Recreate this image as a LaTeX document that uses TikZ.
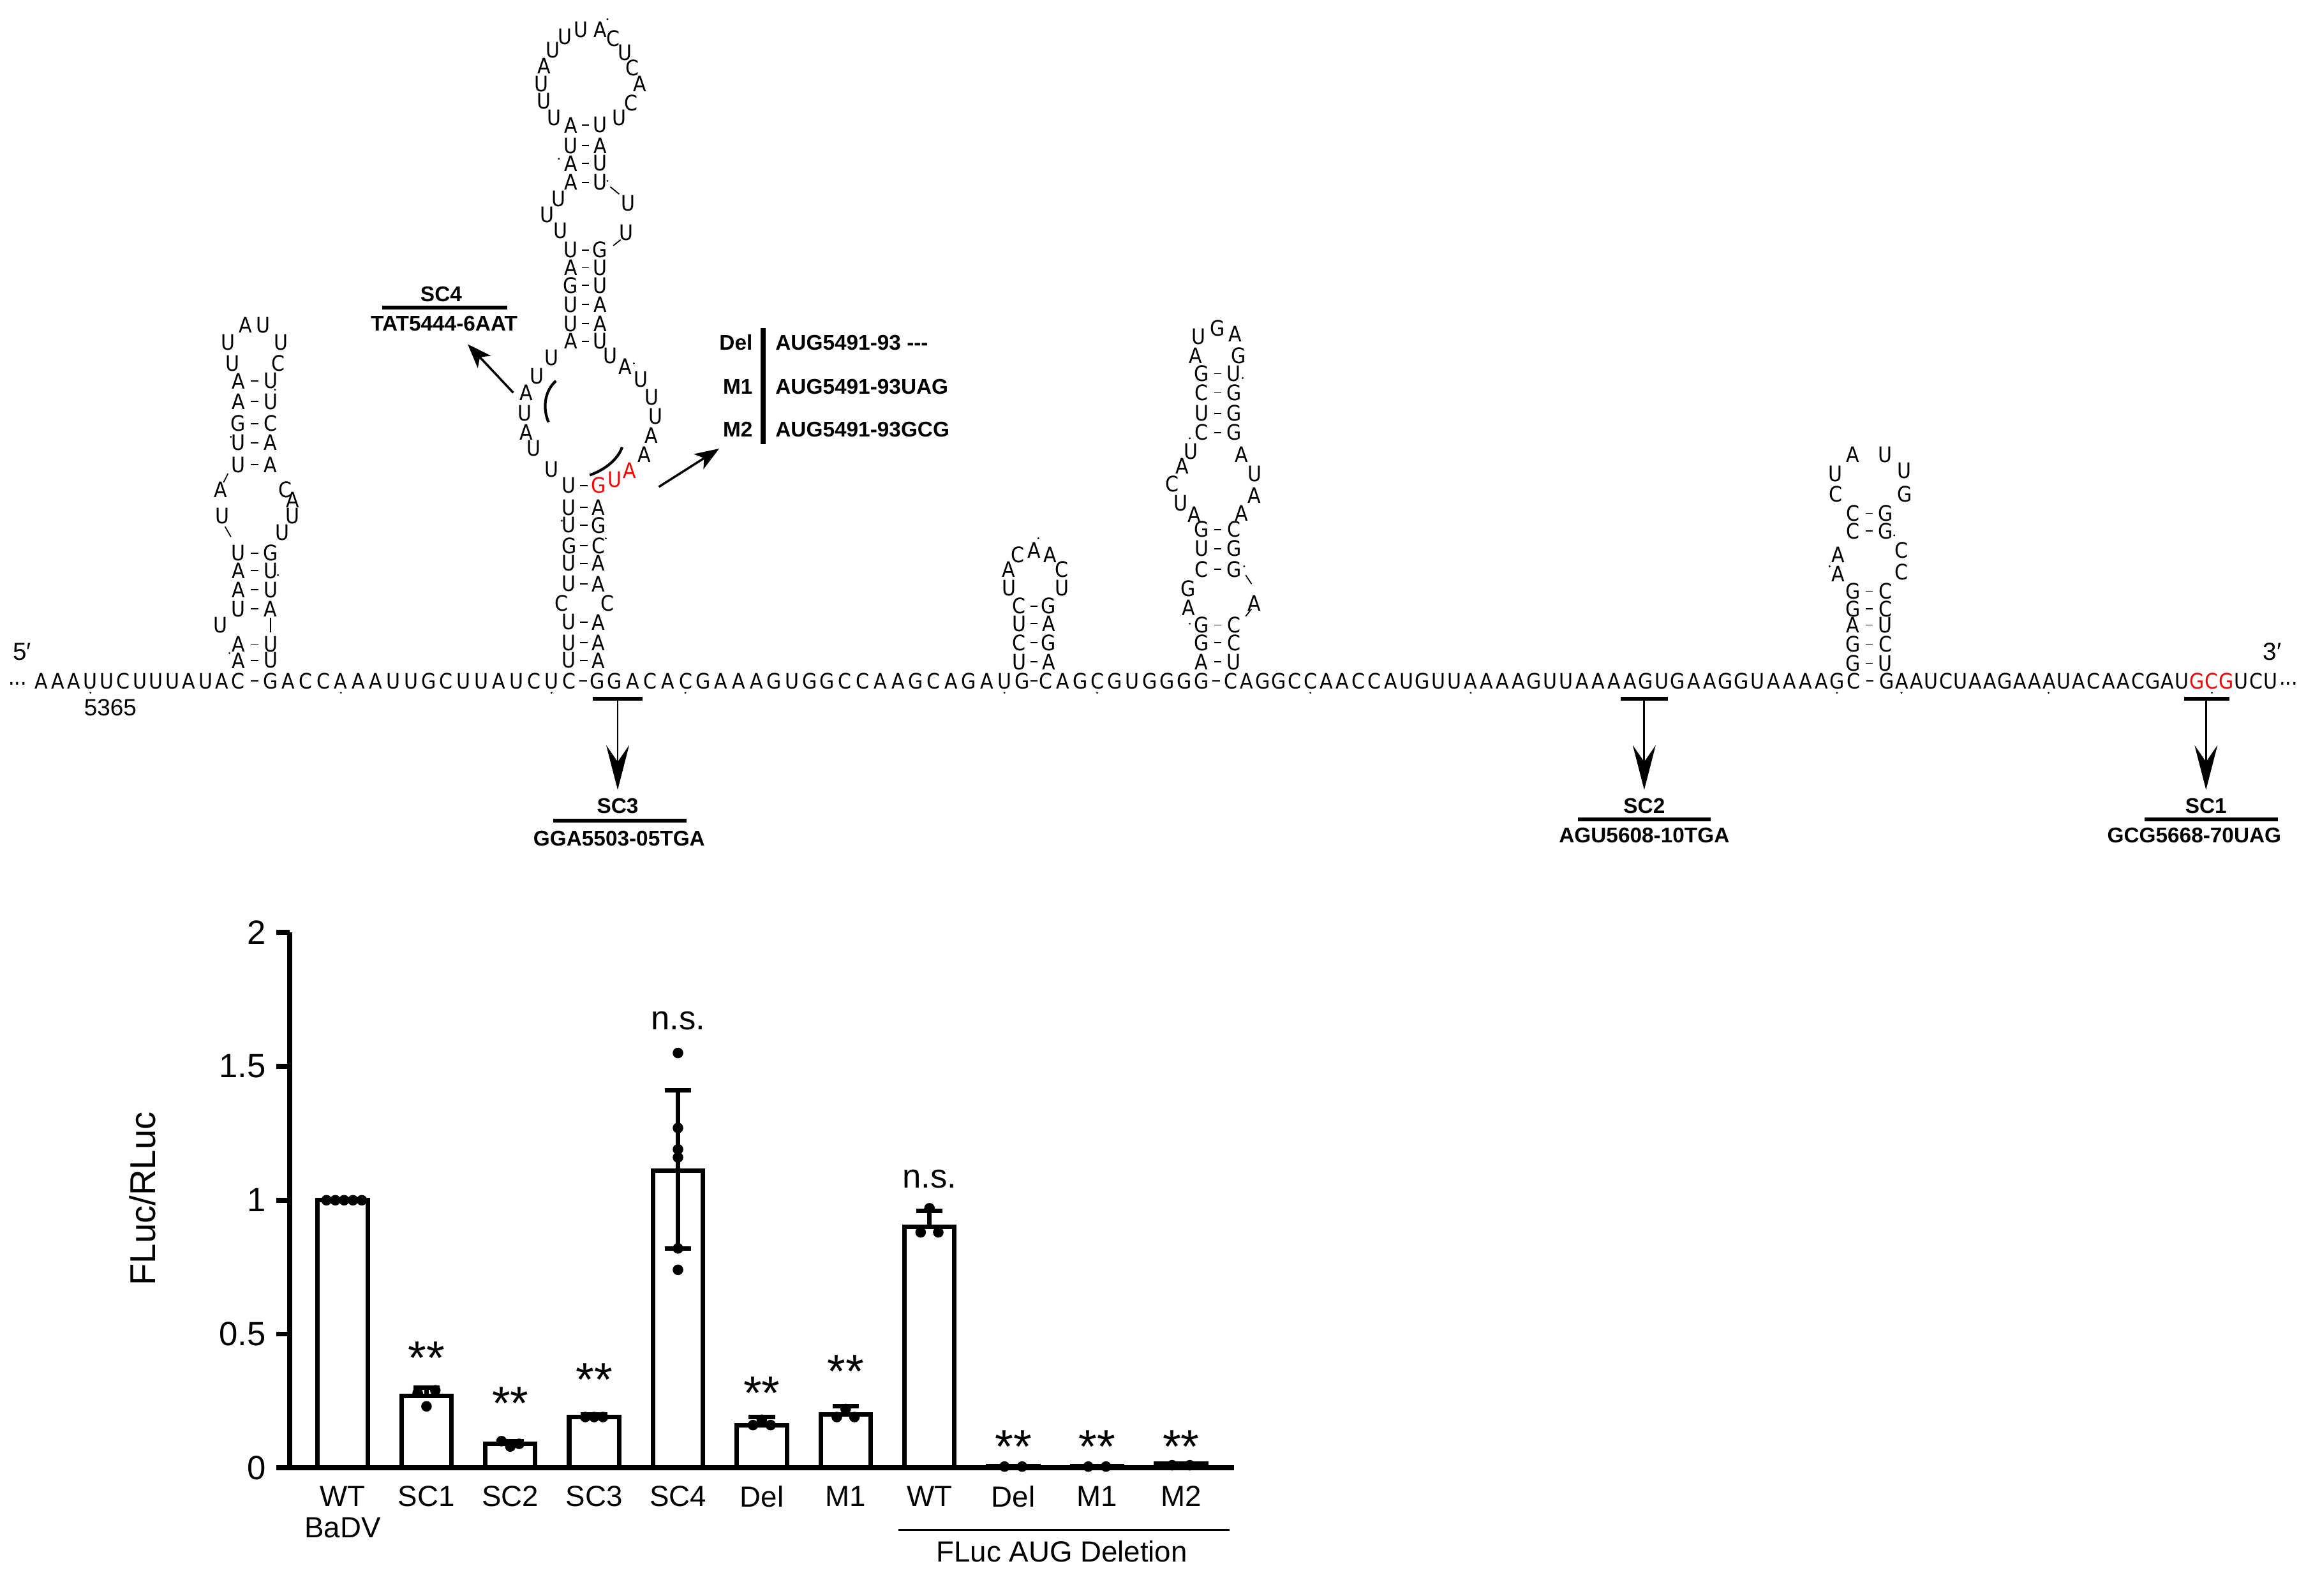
\documentclass[tikz,border=0pt]{standalone}
\usepackage{fontspec}
\setmainfont{Liberation Sans}
\newfontfamily\ntfont{DejaVu Sans Condensed}
\usetikzlibrary{arrows.meta}
\tikzset{
  nt/.style={font=\ntfont\fontsize{9.5}{9.5}\selectfont,inner sep=0pt,anchor=center},
  ntr/.style={nt,text=red},
  lab/.style={font=\bfseries\fontsize{9.5}{10}\selectfont,inner sep=0pt},
  thk/.style={line width=1.6pt},
  bigarrow/.style={line width=0.8pt,-{Stealth[length=7mm,width=3.6mm,inset=2.6mm]}},
  smarrow/.style={line width=1pt,-{Stealth[length=3.8mm,width=2.8mm,inset=1mm]}},
  axis/.style={line width=2.2pt},
  bar/.style={line width=2pt,fill=white},
  err/.style={line width=2pt},
  tick/.style={font=\fontsize{15}{15}\selectfont,inner sep=0pt},
  xl/.style={font=\fontsize{13}{14}\selectfont,inner sep=0pt,align=center,anchor=north},
  star/.style={font=\fontsize{15}{15}\selectfont,inner sep=0pt},
  stars/.style={font=\fontsize{21}{21}\selectfont,inner sep=0pt},
}
\newcommand\pr[5]{\node[nt] at (#1,#3) {#4};\node[nt] at (#2,#3) {#5};\draw[line width=0.5pt] ({(#1+#2)/2-2.5},#3) -- ({(#1+#2)/2+2.5},#3);}
\newcommand\nn[3]{\node[nt] at (#1,#2) {#3};}
\newcommand\dt[2]{\fill (#1,#2) circle (0.7);}
\newcommand\bd[1]{\draw[line width=0.5pt] ({#1-2.5},463) -- ({#1+2.5},463);}
\begin{document}
\begin{tikzpicture}[x=0.02305cm,y=-0.02305cm]
\useasboundingbox (0,0) rectangle (1568,1085);
% ---------- baseline ----------
\node[nt] (dots1) at (12,465) {...};
\foreach \c [count=\i from 0] in {A,A,A,U,U,C,U,U,U,A,U,A,C} {\node[nt] at ({28+\i*11.17},463) {\c};}
\bd{173}
\foreach \c [count=\i from 0] in {G,A,C,C,A,A,A,U,U,G,C,U,U,A,U,C,U,C} {\node[nt] at ({184+\i*11.94},463) {\c};}
\bd{396.5}
\foreach \c [count=\i from 0] in {G,G,A,C,A,C,G,A,A,A,G,U,G,G,C,C,A,A,G,C,A,G,A,U,G} {\node[nt] at ({406+\i*12.04},463) {\c};}
\bd{703}
\foreach \c [count=\i from 0] in {C,A,G,C,G,U,G,G,G,G} {\node[nt] at ({711+\i*11.78},463) {\c};}
\bd{827}
\foreach \c [count=\i from 0] in {C,A,G,G,C,C,A,A,C,C,A,U,G,U,U,A,A,A,A,G,U,U,A,A,A,A,G,U,G,A,A,G,G,U,A,A,A,A,G,C} {\node[nt] at ({837+\i*10.85},463) {\c};}
\bd{1271.5}
\foreach \c [count=\i from 0] in {G,A,A,U,C,U,A,A,G,A,A,A,U,A,C,A,A,C,G,A,U} {\node[nt] at ({1283+\i*10.04},463) {\c};}
\foreach \c [count=\i from 21] in {G,C,G} {\node[ntr] at ({1283+\i*10.04},463) {\c};}
\foreach \c [count=\i from 24] in {U,C,U} {\node[nt] at ({1283+\i*10.04},463) {\c};}
\node[nt] (dots2) at (1556,465) {...};
\foreach \x in {61.5,231.8,375,466,683,746,891,1000,1249,1293,1393,1504} {\dt{\x}{471}}
\node[font=\fontsize{11}{11}\selectfont,inner sep=0pt] (p5) at (15,443) {5′};
\node[font=\fontsize{11}{11}\selectfont,inner sep=0pt] (p3) at (1545,443) {3′};
\node[font=\fontsize{10.5}{11}\selectfont,inner sep=0pt] (n5365) at (75,481) {5365};
% ---------- hairpin 1 ----------
\pr{162}{184}{449}{A}{U}\dt{156}{444}
\pr{162}{184}{438}{A}{U}
\nn{150}{425}{U}\draw[line width=0.5pt] (184,420)--(184,430);
\pr{162}{184}{414}{U}{A}
\pr{162}{184}{401}{A}{U}
\pr{162}{184}{388}{A}{U}\dt{189}{391}
\pr{162}{184}{376}{U}{G}
\nn{151}{351}{U}\nn{199}{351}{U}\nn{192}{362}{U}
\nn{150}{333}{A}\nn{194}{333}{C}\nn{199}{340}{A}
\draw[line width=0.5pt] (152,328)--(155,322);\draw[line width=0.5pt] (153,358)--(157,365);
\pr{162}{184}{316}{U}{A}
\pr{162}{184}{301}{U}{A}\dt{157}{297}
\pr{162}{184}{288}{G}{C}
\pr{162}{184}{273}{A}{U}
\pr{162}{184}{259}{A}{U}\dt{187}{265}
\nn{158}{247}{U}\nn{189}{247}{C}
\nn{155}{233}{U}\nn{191}{233}{U}
\nn{167}{221}{A}\nn{179}{221}{U}
% ---------- hairpin 2 (big) ----------
\pr{387}{407}{449}{U}{A}
\pr{387}{407}{437}{U}{A}
\pr{387}{407}{423}{U}{A}
\nn{382}{410}{C}\nn{413}{410}{C}
\pr{387}{407}{397}{U}{A}
\pr{387}{407}{383}{U}{A}
\pr{387}{407}{371}{G}{C}\dt{412}{366}
\pr{387}{407}{357}{U}{G}\dt{382}{354}
\pr{387}{407}{345}{U}{A}
\node[nt] at (387,330) {U};\draw[line width=0.5pt] (394.5,330)--(399.5,330);\node[ntr] at (407,330) {G};
\node[ntr] at (418,326) {U};\node[ntr] at (428,320) {A};
\nn{375}{319}{U}\nn{363}{305}{U}\nn{358}{294}{A}\nn{357}{281}{U}\nn{358}{267}{A}\nn{365}{256}{U}\nn{375}{243}{U}
\nn{438}{309}{A}\nn{443}{296}{A}\nn{446}{283}{U}\nn{443}{270}{U}\nn{436}{258}{U}\nn{425}{249}{A}\nn{415}{242}{U}\dt{431}{247}
\draw[line width=1.2pt] (378,259) .. controls (370,266) and (369,278) .. (373,287);
\draw[line width=1.2pt] (423,304) .. controls (420,313) and (410,320) .. (401,323);
\pr{388}{408}{232}{A}{U}
\pr{388}{408}{220}{U}{A}
\pr{388}{408}{207}{U}{A}
\pr{388}{408}{194}{G}{U}
\pr{388}{408}{182}{A}{U}
\pr{388}{408}{170}{U}{G}
\nn{381}{157}{U}\nn{372}{146}{U}\nn{380}{135}{U}
\nn{426}{158}{U}\nn{427}{138}{U}
\draw[line width=0.5pt] (417,167)--(422,163);\draw[line width=0.5pt] (415,127)--(421,132);\dt{413}{123}
\pr{388}{408}{124}{A}{U}
\pr{388}{408}{111}{A}{U}\dt{380}{108}
\pr{388}{408}{99}{U}{A}
\pr{388}{408}{85}{A}{U}
\nn{377}{80}{U}\nn{370}{69}{U}\nn{368}{57}{U}\nn{370}{45}{A}\nn{376}{34}{U}\nn{384}{25}{U}\nn{395}{20}{U}\nn{408}{20}{A}
\nn{417}{26}{C}\nn{425}{36}{U}\nn{430}{46}{C}\nn{435}{57}{A}\nn{429}{70}{C}\nn{421}{80}{U}\dt{413}{13}
% ---------- hairpin 3 (small) ----------
\pr{693}{713}{450}{U}{A}
\pr{693}{713}{437}{C}{G}
\pr{693}{713}{424}{U}{A}
\pr{693}{713}{412}{C}{G}
\nn{686}{400}{U}\nn{722}{400}{U}
\nn{686}{387}{A}\nn{722}{387}{C}
\nn{692}{377}{C}\nn{703}{374}{A}\nn{714}{377}{A}\dt{706}{366}
% ---------- hairpin 4 (tall) ----------
\pr{817}{839}{450}{A}{U}
\pr{817}{839}{437}{G}{C}
\pr{817}{839}{425}{G}{C}\dt{809}{424}
\nn{808}{413}{A}\nn{853}{410}{A}\draw[line width=0.5pt] (847,419)--(851,414);
\nn{808}{400}{G}
\pr{817}{839}{387}{C}{G}\dt{846}{385}\draw[line width=0.5pt] (847,391)--(851,397);
\pr{817}{839}{373}{U}{G}
\pr{817}{839}{360}{G}{C}
\nn{812}{350}{A}\nn{803}{342}{U}\nn{797}{329}{C}\nn{804}{317}{A}\nn{810}{307}{U}\dt{809}{298}
\nn{844}{349}{A}\nn{853}{337}{A}\nn{853}{322}{U}\nn{844}{309}{A}
\pr{817}{839}{294}{C}{G}
\pr{817}{839}{281}{U}{G}
\pr{817}{839}{267}{C}{G}
\pr{817}{839}{254}{G}{U}\dt{845}{257}
\nn{813}{242}{A}\nn{842}{242}{G}
\nn{815}{229}{U}\nn{828}{223}{G}\nn{840}{227}{A}
% ---------- hairpin 5 (right) ----------
\pr{1260}{1282}{451}{G}{U}
\pr{1260}{1282}{438}{G}{C}
\pr{1260}{1282}{425}{A}{U}
\pr{1260}{1282}{414}{G}{C}
\pr{1260}{1282}{402}{G}{C}
\nn{1250}{390}{A}\nn{1293}{389}{C}\dt{1244}{385}
\nn{1250}{377}{A}\nn{1293}{374}{C}
\pr{1260}{1282}{361}{C}{G}\dt{1288}{364}
\pr{1260}{1282}{349}{C}{G}
\nn{1248}{336}{C}\nn{1295}{336}{G}
\nn{1248}{322}{U}\nn{1295}{320}{U}
\nn{1260}{309}{A}\nn{1282}{309}{U}
% ---------- SC annotations ----------
\coordinate (u3) at (420,475);
\draw[thk] (403,475) -- (437,475);
\node[lab] (sc3) at (420,548) {SC3};
\draw[thk] (376,558) -- (467,558);
\node[lab] (sc3t) at (421,570) {GGA5503-05TGA};
\draw[bigarrow] (u3) -- (420,537);
\coordinate (u2) at (1118,475);
\draw[thk] (1102,475) -- (1134,475);
\node[lab] (sc2) at (1118,548) {SC2};
\draw[thk] (1073,557) -- (1163,557);
\node[lab] (sc2t) at (1118,568) {AGU5608-10TGA};
\draw[bigarrow] (u2) -- (1118,537);
\coordinate (u1) at (1500,475);
\draw[thk] (1485,475) -- (1516,475);
\node[lab] (sc1) at (1500,548) {SC1};
\draw[thk] (1458,557) -- (1549,557);
\node[lab] (sc1t) at (1492,568) {GCG5668-70UAG};
\draw[bigarrow] (u1) -- (1500,537);
\node[lab] (sc4) at (300,200) {SC4};
\draw[thk] (260,209) -- (345,209);
\node[lab] (sc4t) at (302,220) {TAT5444-6AAT};
\coordinate (a4s) at (349,267);
\draw[smarrow] (a4s) -- (318,234);
\coordinate (ams) at (448,331);
\draw[smarrow] (ams) -- (489,305);
\node[lab,anchor=east] (ldel) at (512,233) {Del};
\node[lab,anchor=east] (lm1) at (512,263) {M1};
\node[lab,anchor=east] (lm2) at (512,292) {M2};
\draw[line width=2.2pt] (519,223) -- (519,302);
\node[lab,anchor=west] (tdel) at (527,233) {AUG5491-93 -{}-{}-};
\node[lab,anchor=west] (tm1) at (527,263) {AUG5491-93UAG};
\node[lab,anchor=west] (tm2) at (527,292) {AUG5491-93GCG};
% ---------- bar chart ----------
\foreach \v/\l in {0/0,0.5/0.5,1/1,1.5/1.5,2/2} {
  \draw[axis] (188,{998-182*\v}) -- (197,{998-182*\v});
  \node[tick,anchor=east] at (181,{998-182*\v}) {\l};
}
\node[rotate=90,font=\fontsize{16}{16}\selectfont,inner sep=0pt] (ylab) at (97,815) {FLuc/RLuc};
\foreach \x/\v in {233/1.0,290/0.27,347/0.09,404/0.19,461/1.11,518/0.16,575/0.20,632/0.90,689/0.006,746/0.006,803/0.015} {
  \draw[bar] ({\x-17},998) rectangle ({\x+17},{998-182*\v});
}
\foreach \x/\lo/\hi in {290/0.27/0.30,347/0.09/0.10,404/0.19/0.20,461/0.82/1.41,518/0.16/0.19,575/0.20/0.23,632/0.90/0.96} {
  \draw[err] (\x,{998-182*\lo}) -- (\x,{998-182*\hi});
  \draw[err] ({\x-9},{998-182*\hi}) -- ({\x+9},{998-182*\hi});
}
\draw[err] (452,{998-182*0.82}) -- (470,{998-182*0.82});
\foreach \x/\v in {222/1,228/1,234/1,240/1,246/1,284/0.28,296/0.29,290/0.23,341/0.1,353/0.09,347/0.08,398/0.19,404/0.19,410/0.19,
  461/1.55,461/1.27,461/1.19,461/1.16,461/0.82,461/0.74,512/0.16,518/0.18,524/0.16,569/0.19,575/0.22,581/0.19,
  626/0.88,632/0.97,638/0.88,683/0.005,695/0.005,740/0.005,752/0.005,797/0.01,809/0.01} {
  \fill (\x,{998-182*\v}) circle (3.6);
}
\draw[axis] (197,634) -- (197,998) -- (839,998);
\foreach \x/\v in {290/0.41,347/0.24,404/0.33,518/0.28,575/0.36,689/0.08,746/0.08,803/0.08} {
  \node[stars] at (\x,{998-182*\v}) {**};
}
\node[star] (ns1) at (461,{998-182*1.67}) {n.s.};
\node[star] (ns2) at (632,{998-182*1.08}) {n.s.};
\foreach \x/\l in {233/{WT\\BaDV},290/SC1,347/SC2,404/SC3,461/SC4,518/Del,575/M1,632/WT,689/Del,746/M1,803/M2} {
  \node[xl] at (\x,1010) {\l};
}
\draw[line width=0.9pt] (611,1040) -- (836,1040);
\node[xl] (fad) at (722,1047) {FLuc AUG Deletion};
\end{tikzpicture}
\end{document}
